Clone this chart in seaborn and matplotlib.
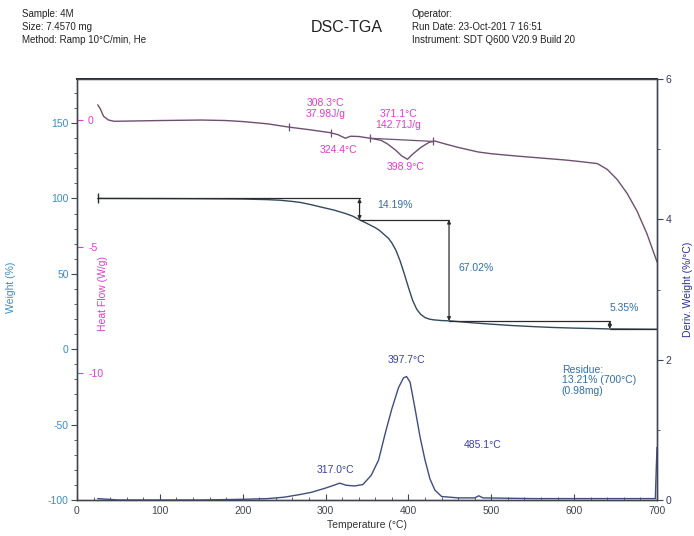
import numpy as np
import pandas as pd
import matplotlib
matplotlib.use("Agg")
import matplotlib.pyplot as plt
from matplotlib.ticker import MultipleLocator
import seaborn as sns

# ---------------- data ----------------
tga_temp = [25, 100, 150, 200, 230, 245, 260, 270, 283, 295, 310, 324, 333, 341,
            350, 360, 365, 370, 376, 380, 385, 390, 395, 400, 405, 410, 415, 420,
            425, 430, 440, 450, 475, 500, 525, 550, 575, 600, 625, 643, 670, 700]
tga_weight = [100.0, 99.9, 99.8, 99.6, 99.2, 98.8, 98.0, 97.3, 95.8, 94.2, 92.3, 90.0,
              88.2, 85.8, 83.4, 80.6, 78.8, 76.4, 73.5, 70.5, 65.5, 58.5, 50.0, 41.0,
              32.5, 26.5, 23.0, 21.0, 20.0, 19.5, 19.0, 18.8, 17.6, 16.6, 15.7, 15.0,
              14.4, 14.0, 13.7, 13.44, 13.35, 13.21]

hf_temp = [25, 28, 32, 38, 45, 100, 150, 180, 200, 230, 256, 280, 306, 315, 324, 330,
           340, 354, 367, 375, 385, 392, 398.9, 405, 415, 425, 432, 445, 460, 484, 500,
           530, 560, 590, 610, 628, 640, 652, 664, 676, 688, 700]
hf_value = [0.6, 0.45, 0.15, 0.0, -0.05, -0.02, 0.0, -0.02, -0.06, -0.15, -0.28, -0.38,
            -0.5, -0.58, -0.72, -0.64, -0.65, -0.72, -0.8, -0.95, -1.2, -1.42, -1.55,
            -1.35, -1.08, -0.88, -0.83, -0.95, -1.08, -1.26, -1.33, -1.42, -1.5, -1.58,
            -1.65, -1.72, -1.95, -2.35, -2.9, -3.6, -4.5, -5.6]

dtg_temp = [25, 50, 100, 150, 200, 230, 250, 270, 283, 300, 310, 317, 325, 335, 345,
            355, 364, 372, 380, 388, 394, 397.7, 402, 408, 414, 420, 426, 432, 440, 460,
            480, 485, 490, 550, 600, 650, 698, 699, 700]
dtg_value = [0.02, 0.0, 0.0, 0.0, 0.01, 0.02, 0.04, 0.08, 0.11, 0.17, 0.21, 0.24, 0.21,
             0.2, 0.22, 0.35, 0.57, 0.95, 1.3, 1.6, 1.74, 1.76, 1.68, 1.3, 0.9, 0.57,
             0.3, 0.14, 0.05, 0.03, 0.03, 0.06, 0.03, 0.02, 0.02, 0.02, 0.02, 0.4, 0.75]

# TGA step analysis
step_start = 25
step_temps = [341, 449, 643]
step_losses = [14.19, 67.02, 5.35]
step_labels = ["14.19%", "67.02%", "5.35%"]
step_label_pos = [(362, 95.4), (460, 53.6), (660, 27.0)]

# DSC integration limits
hf_limit_temps = [256, 306, 354, 430]
peak_labels_hf = ["308.3°C\n37.98J/g", "324.4°C", "371.1°C\n142.71J/g", "398.9°C"]
peak_pos_hf = [(300, 0.45), (316, -1.19), (388, 0.02), (396, -1.86)]

peak_labels_dtg = ["317.0°C", "397.7°C", "485.1°C"]
peak_pos_dtg = [(312, 0.43), (397.7, 2.0), (489, 0.78)]

residue_text = "Residue:\n13.21% (700°C)\n(0.98mg)"
header_left = ["Sample: 4M", "Size: 7.4570 mg", "Method: Ramp 10°C/min, He"]
header_right = ["Operator:", "Run Date: 23-Oct-201 7 16:51", "Instrument: SDT Q600 V20.9 Build 20"]
title = "DSC-TGA"

# ---------------- style ----------------
sns.set_theme(style="ticks")
plt.rcParams['font.family'] = ['Liberation Sans', 'DejaVu Sans']
plt.rcParams['font.size'] = 7.5
plt.rcParams['axes.unicode_minus'] = False

C_TGA = "#34495a"
C_HF = "#6e4f70"
C_DTG = "#3f4d80"
C_STEP = "#2b2b2b"
C_WBLUE = "#3a8cc6"
C_MAG = "#e03ccc"
C_DBLUE = "#2b3190"
C_ANN = "#2f6fa8"
C_PK = "#3a40a8"
C_AX = "#3f4650"

fig = plt.figure(figsize=(6.94, 5.36), dpi=100)
ax = fig.add_axes([77 / 694, 1 - 500 / 536, 580 / 694, 421 / 536])
ax_hf = ax.twinx()
ax_d = ax.twinx()

# ---------------- curves ----------------
sns.lineplot(x=tga_temp, y=tga_weight, ax=ax, color=C_TGA, linewidth=1.0, sort=True)
sns.lineplot(x=hf_temp, y=hf_value, ax=ax_hf, color=C_HF, linewidth=1.0, sort=True)
sns.lineplot(x=dtg_temp, y=dtg_value, ax=ax_d, color=C_DTG, linewidth=1.0, sort=True)

# ---------------- axes limits / ticks ----------------
ax.set_xlim(0, 700)
ax.set_ylim(-100, 179.2)
ax_hf.set_ylim(-15.0, 1.62)
ax_d.set_ylim(0, 6)

ax.xaxis.set_major_locator(MultipleLocator(100))
ax.xaxis.set_minor_locator(MultipleLocator(20))
ax.yaxis.set_major_locator(MultipleLocator(50))
ax.yaxis.set_minor_locator(MultipleLocator(10))
ax.tick_params(axis='x', direction='in', length=4, width=0.8, colors=C_AX, pad=4, labelsize=7.5)
ax.tick_params(axis='x', which='minor', direction='in', length=2, width=0.6, colors=C_AX)
ax.tick_params(axis='y', direction='out', length=4, width=0.8, colors=C_AX,
               labelcolor=C_WBLUE, pad=2, labelsize=7.5)
ax.tick_params(axis='y', which='minor', direction='out', length=2, width=0.6, colors=C_AX)

ax_hf.yaxis.tick_left()
ax_hf.set_yticks([0, -5, -10])
ax_hf.yaxis.set_minor_locator(MultipleLocator(1))
ax_hf.tick_params(axis='y', direction='in', length=4, width=0.8, colors=C_MAG,
                  labelcolor=C_MAG, pad=-8, labelsize=7.5)
ax_hf.tick_params(axis='y', which='minor', direction='in', length=0)
for lab in ax_hf.get_yticklabels():
    lab.set_horizontalalignment('left')

ax_d.yaxis.set_major_locator(MultipleLocator(2))
ax_d.yaxis.set_minor_locator(MultipleLocator(1))
ax_d.tick_params(axis='y', direction='out', length=4, width=0.8, colors=C_AX,
                 labelcolor="#333a66", pad=2, labelsize=7.5)
ax_d.tick_params(axis='y', which='minor', direction='out', length=2, width=0.6, colors=C_AX)

for a in (ax, ax_hf, ax_d):
    for s in a.spines.values():
        s.set_color(C_AX)
        s.set_linewidth(0.9)
ax.spines['top'].set_linewidth(1.4)
ax.spines['top'].set_color("#222222")

# labels
ax.set_xlabel("Temperature (°C)", color="#333333", fontsize=7.5, labelpad=3)
ax.set_ylabel("Weight (%)", color=C_WBLUE, fontsize=7.5)
ax.yaxis.set_label_coords(-(77 - 16) / 580, 0.505)
ax_hf.set_ylabel("")
ax.text((103 - 77) / 580, 0.49, "Heat Flow (W/g)", transform=ax.transAxes, rotation=90,
        color=C_MAG, fontsize=7.5, ha='center', va='center')
ax_d.set_ylabel("Deriv. Weight (%/°C)", color=C_DBLUE, fontsize=7.5)
ax_d.yaxis.set_label_coords((683 - 77) / 580, 0.5)
ax_d.yaxis.label.set_rotation(90)

# ---------------- TGA step annotations ----------------
levels = [100.0]
for loss in step_losses:
    levels.append(levels[-1] - loss)
ends = step_temps[1:] + [700]
ax.plot([step_start, step_temps[0]], [levels[0], levels[0]], color=C_STEP, lw=0.9)
ax.plot([step_start], [levels[0]], marker='|', color=C_STEP, ms=7, mew=1.0)
for i, t in enumerate(step_temps):
    ax.annotate("", xy=(t, levels[i + 1]), xytext=(t, levels[i]),
                arrowprops=dict(arrowstyle='<|-|>', color=C_STEP, lw=0.9,
                                mutation_scale=5, shrinkA=0, shrinkB=0))
    ax.plot([t, ends[i]], [levels[i + 1], levels[i + 1]], color=C_STEP, lw=0.9)
    ax.text(step_label_pos[i][0], step_label_pos[i][1], step_labels[i], color=C_ANN,
            fontsize=7.5, ha='left' if i < 2 else 'center', va='center')

ax.text(585, -20.7, residue_text, color=C_ANN, fontsize=7.5, ha='left', va='center',
        linespacing=1.1)

# ---------------- DSC annotations ----------------
lim_vals = np.interp(hf_limit_temps, hf_temp, hf_value)
ax_hf.scatter(hf_limit_temps, lim_vals, marker='|', s=40, color=C_HF, linewidths=0.9, zorder=3)
ax_hf.plot(hf_limit_temps[2:], lim_vals[2:], color=C_HF, lw=0.9)
for (x, y), s in zip(peak_pos_hf, peak_labels_hf):
    ax_hf.text(x, y, s, color=C_MAG, fontsize=7.5, ha='center', va='center', linespacing=1.1)

for (x, y), s in zip(peak_pos_dtg, peak_labels_dtg):
    ax_d.text(x, y, s, color=C_PK, fontsize=7.5, ha='center', va='center')

# ---------------- header ----------------
for i, s in enumerate(header_left):
    fig.text(22 / 694, 1 - (14 + 13 * i) / 536, s, fontsize=7, color="#222222", va='center')
for i, s in enumerate(header_right):
    fig.text(412 / 694, 1 - (14 + 13 * i) / 536, s, fontsize=7, color="#222222", va='center')
fig.text(347 / 694, 1 - 27 / 536, title, fontsize=11.5, color="#222222", ha='center', va='center')

fig.savefig("out.png", dpi=100)
